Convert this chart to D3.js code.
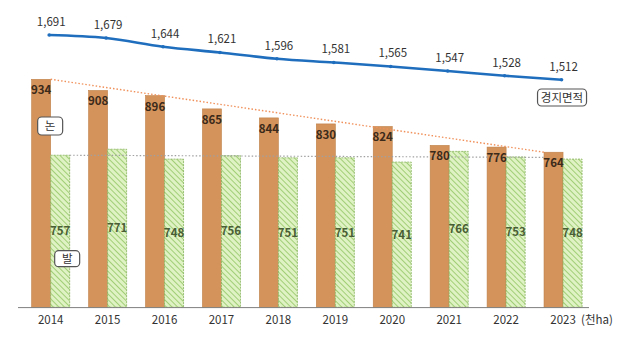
<!DOCTYPE html>
<html>
<head>
<meta charset="utf-8">
<script src="https://cdn.jsdelivr.net/npm/d3@7"></script>
<style>
  html, body { margin: 0; padding: 0; background: #fff; }
  svg { display: block; font-family: "Noto Sans CJK KR", "Noto Sans", sans-serif; }
</style>
</head>
<body>
<svg id="chart" width="621" height="341"></svg>
<script>
const years = ["2014","2015","2016","2017","2018","2019","2020","2021","2022","2023"];
const paddy = [934, 908, 896, 865, 844, 830, 824, 780, 776, 764];   // 논
const field = [757, 771, 748, 756, 751, 751, 741, 766, 753, 748];   // 밭
const total = [1691, 1679, 1644, 1621, 1596, 1581, 1565, 1547, 1528, 1512]; // 경지면적
const unitLabel = "(천ha)";
const grayRefValues = [757, 752];

const svg = d3.select("#chart");

const x = d3.scaleBand().domain(years).range([22.2, 591.5]).paddingInner(0.332).paddingOuter(0.166);
const bw = x.bandwidth() / 2;
const y = d3.scaleLinear().domain([402.5, 934]).range([307.3, 79.3]);
const yl = d3.scaleLinear().domain([1512, 1691]).range([79.7, 35]);

// hatch pattern
const defs = svg.append("defs");
const pat = defs.append("pattern").attr("id", "hatch").attr("patternUnits", "userSpaceOnUse")
  .attr("width", 4).attr("height", 4).attr("patternTransform", "rotate(-45)");
pat.append("rect").attr("width", 4).attr("height", 4).attr("fill", "#DFF2C4");
pat.append("line").attr("x1", 0).attr("y1", 0).attr("x2", 0).attr("y2", 4)
  .attr("stroke", "#8CC25C").attr("stroke-width", 1.5);

// paddy bars
svg.append("g").selectAll("rect").data(years).join("rect")
  .attr("x", d => x(d)).attr("y", (d, i) => y(paddy[i]))
  .attr("width", bw).attr("height", (d, i) => y.range()[0] - y(paddy[i]))
  .attr("fill", "#D4935B").attr("stroke", "#BF8048").attr("stroke-width", 0.6);

// field bars
svg.append("g").selectAll("rect").data(years).join("rect")
  .attr("x", d => x(d) + bw).attr("y", (d, i) => y(field[i]))
  .attr("width", bw).attr("height", (d, i) => y.range()[0] - y(field[i]))
  .attr("fill", "url(#hatch)").attr("stroke", "#86B35C").attr("stroke-width", 0.8)
  .attr("stroke-dasharray", "2,1");

// orange dotted trend (top of 2014 paddy to top of 2023 paddy)
const n = years.length - 1;
svg.append("line")
  .attr("x1", x(years[0]) + bw).attr("y1", y(paddy[0]))
  .attr("x2", x(years[n])).attr("y2", y(paddy[n]))
  .attr("stroke", "#F0905A").attr("stroke-width", 1.4).attr("stroke-dasharray", "1.5,2");

// gray dotted reference
svg.append("line")
  .attr("x1", x(years[0]) + 2 * bw).attr("y1", y(grayRefValues[0]))
  .attr("x2", x(years[n])).attr("y2", y(grayRefValues[1]))
  .attr("stroke", "#A0A0A0").attr("stroke-width", 1.2).attr("stroke-dasharray", "1.5,2");

// axis line
svg.append("line").attr("x1", 18).attr("x2", 589).attr("y1", 307.6).attr("y2", 307.6)
  .attr("stroke", "#7F7F7F").attr("stroke-width", 1);

// x axis labels
const xAxis = d3.axisBottom(x).tickSize(0).tickPadding(8);
const gx = svg.append("g").attr("transform", "translate(0,308)").call(xAxis);
gx.select(".domain").remove();
gx.selectAll("text").attr("font-size", 11.5).attr("fill", "#333")
  .attr("font-family", "'Noto Sans CJK KR', sans-serif");
svg.append("text").attr("x", 597).attr("y", 324).attr("text-anchor", "middle")
  .attr("font-size", 11.5).attr("fill", "#333").text(unitLabel);

// value labels paddy
svg.append("g").selectAll("text").data(years).join("text")
  .attr("x", d => x(d) + bw / 2).attr("y", (d, i) => y(paddy[i]) + 15)
  .attr("text-anchor", "middle").attr("font-size", 11.5).attr("font-weight", "bold")
  .attr("fill", "#3B2A1A").text((d, i) => paddy[i]);

// value labels field
svg.append("g").selectAll("text").data(years).join("text")
  .attr("x", d => x(d) + bw * 1.5).attr("y", (d, i) => (y(field[i]) + y.range()[0]) / 2 + 4)
  .attr("text-anchor", "middle").attr("font-size", 11.5).attr("font-weight", "bold")
  .attr("fill", "#4A5E36").text((d, i) => field[i]);

// total line
const lx = d => x(d) + bw - 1.5;
const line = d3.line().x((d, i) => lx(years[i])).y(d => yl(d)).curve(d3.curveMonotoneX);
svg.append("path").datum(total).attr("d", line).attr("fill", "none")
  .attr("stroke", "#1F6EBE").attr("stroke-width", 2.6);
svg.append("g").selectAll("circle").data(total).join("circle")
  .attr("cx", (d, i) => lx(years[i])).attr("cy", d => yl(d)).attr("r", 1.8)
  .attr("fill", "#1F6EBE");
svg.append("g").selectAll("text").data(total).join("text")
  .attr("x", (d, i) => lx(years[i]) + 2).attr("y", d => yl(d) - 9)
  .attr("text-anchor", "middle").attr("font-size", 11.5).attr("fill", "#333")
  .text(d => d3.format(",")(d));

// boxed labels
function boxLabel(cx, cy, w, h, label) {
  const g = svg.append("g");
  g.append("rect").attr("x", cx - w / 2).attr("y", cy - h / 2).attr("width", w).attr("height", h)
    .attr("rx", 4).attr("fill", "#fff").attr("stroke", "#555").attr("stroke-width", 1.2);
  g.append("text").attr("x", cx).attr("y", cy + 4).attr("text-anchor", "middle")
    .attr("font-size", 11.5).attr("fill", "#333").text(label);
}
boxLabel(x(years[0]) + bw * 0.5 + 0.5 + 8.5, 126, 25, 18, "논");
boxLabel(x(years[0]) + bw * 1.5 + 7, 258.7, 25, 16, "발");
boxLabel(lx(years[n]) + 0.5, 97.5, 49, 17, "경지면적");
</script>
</body>
</html>
